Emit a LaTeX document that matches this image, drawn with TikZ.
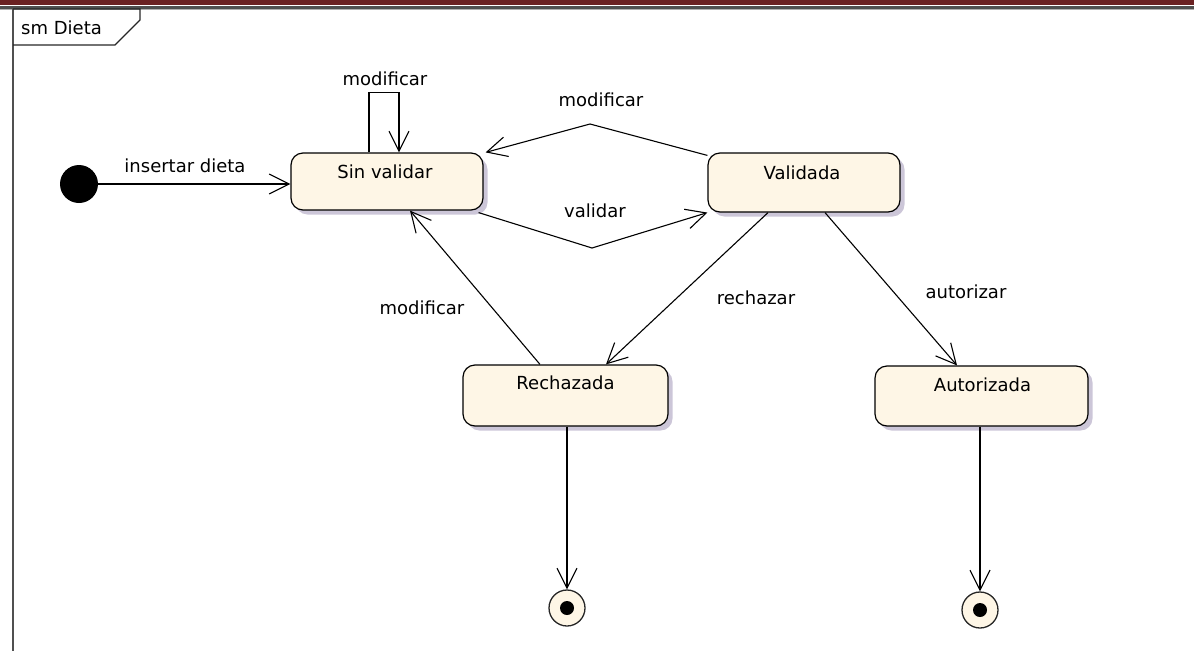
\documentclass[tikz,border=0pt]{standalone}
\usepackage{fontspec}
\setmainfont{DejaVu Sans}
\usetikzlibrary{arrows.meta,shadows}
\definecolor{barred}{RGB}{106,33,34}
\definecolor{rulegray}{RGB}{80,80,80}
\definecolor{rulelight}{RGB}{175,175,175}
\definecolor{statefill}{RGB}{254,246,230}
\definecolor{shadowc}{RGB}{204,198,216}
\begin{document}
\begin{tikzpicture}[x=1pt,y=-1pt,
  every node/.style={font=\fontsize{18}{20}\selectfont},
  state/.style={draw=black,line width=1.2pt,fill=statefill,rounded corners=12pt,
    drop shadow={shadow xshift=4.5pt,shadow yshift=-4.5pt,fill=shadowc,opacity=1}},
  finalst/.style={circle,draw=black!85,line width=1.3pt,fill=statefill,minimum size=36pt,inner sep=0pt},
  dotc/.style={circle,fill=black,minimum size=#1,inner sep=0pt},
  trans/.style={draw=black,line width=1.1pt,-{Straight Barb[length=20pt,width=20pt,line width=1.1pt]}},
  lbl/.style={inner sep=0pt}]
\useasboundingbox (0,0) rectangle (1194,651);

% page header rules
\fill[barred] (0,0) rectangle (1194,4.5);
\fill[rulegray] (0,6) rectangle (1194,8.5);
\fill[rulelight] (0,8.5) rectangle (1194,10);

% diagram frame with its name tab
\draw[rulegray,line width=2.2pt] (13,8) -- (13,651);
\draw[black!85,line width=1.2pt] (13,9) -- (140,9) -- (140,20) -- (115,45) -- (13,45);
\node[lbl,anchor=west] (frametitle) at (21,28) {sm Dieta};

% states
\node[state,minimum width=192pt,minimum height=57pt] (sv) at (387,181.5) {};
\node[state,minimum width=192pt,minimum height=59pt] (va) at (804,182.5) {};
\node[state,minimum width=205pt,minimum height=61pt] (re) at (565.5,395.5) {};
\node[state,minimum width=213pt,minimum height=60pt] (au) at (981.5,396) {};

\node[lbl] (svt) at (385,172) {Sin validar};
\node[lbl] (vat) at (802,173) {Validada};
\node[lbl] (ret) at (565.5,383) {Rechazada};
\node[lbl] (aut) at (982.5,385) {Autorizada};

% initial and final pseudostates
\node[dotc=38pt] (init) at (79,184) {};
\node[finalst] (f1) at (567,608) {};
\node[dotc=14pt] (f1d) at (f1) {};
\node[finalst] (f2) at (980,610) {};
\node[dotc=14pt] (f2d) at (f2) {};

% transitions
\draw[trans] (init.east) -- (sv.west |- init);
\draw[trans] ([xshift=-18pt]sv.north) -- ++(0,-60) -| ([xshift=12pt]sv.north);
\draw[trans] ([yshift=-3pt]va.north west) -- (590,124) -- ([xshift=2pt]sv.north east);
\draw[trans] ([xshift=-5pt,yshift=-2pt]sv.south east) -- (592,248) -- (va.south west);
\draw[trans] ([xshift=-36pt]va.south) -- ([xshift=40.5pt]re.north);
\draw[trans] ([xshift=21pt]va.south) -- ([xshift=-24.5pt]au.north);
\draw[trans] ([xshift=-25.5pt]re.north) -- ([xshift=23pt]sv.south);
\draw[trans] (f1 |- re.south) -- (f1.north);
\draw[trans] (f2 |- au.south) -- (f2.north);

% transition labels
\node[lbl] (l1) at (185,166) {insertar dieta};
\node[lbl] (l2) at (385,79) {modificar};
\node[lbl] (l3) at (601,100) {modificar};
\node[lbl] (l4) at (595,211) {validar};
\node[lbl] (l5) at (756,298) {rechazar};
\node[lbl] (l6) at (966,292) {autorizar};
\node[lbl] (l7) at (422,308) {modificar};
\end{tikzpicture}
\end{document}
